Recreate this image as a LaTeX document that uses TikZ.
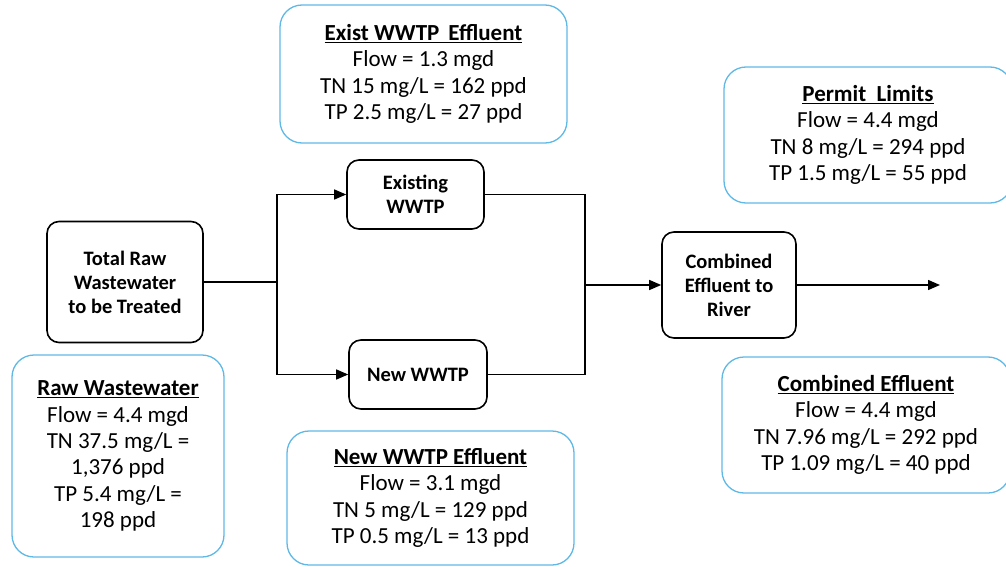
\documentclass[tikz,border=0pt]{standalone}
\usepackage{fontspec}
\setmainfont{Carlito}
\usetikzlibrary{arrows.meta}
\definecolor{infoblue}{RGB}{95,185,230}
\tikzset{
  proc/.style={draw, line width=1.6pt, rounded corners=12pt, align=center,
    font=\fontsize{20.5}{24}\selectfont\bfseries, inner sep=0pt},
  info/.style={draw=infoblue, line width=1.3pt, rounded corners=22pt, align=center,
    font=\fontsize{23}{26.3}\selectfont, inner sep=0pt},
  flow/.style={line width=1.4pt},
  flowarr/.style={flow, -{Triangle[length=12pt, width=10pt]}}
}
\begin{document}
\begin{tikzpicture}[x=1pt, y=-1pt]
  \useasboundingbox (0,0) rectangle (1006,567);
  % process boxes
  \node[proc, minimum width=156pt, minimum height=121pt] (raw) at (125,282) {Total Raw\\Wastewater\\to be Treated};
  \node[proc, minimum width=137pt, minimum height=69pt] (exist) at (415.5,194.5) {Existing\\WWTP};
  \node[proc, minimum width=138pt, minimum height=69pt] (new) at (418,374.5) {New WWTP};
  \node[proc, minimum width=134pt, minimum height=106pt] (comb) at (729,285) {Combined\\Effluent to\\River};
  % info boxes
  \node[info, minimum width=212pt, minimum height=202pt] (rawinfo) at (118,456) {\underline{\textbf{Raw Wastewater}}\\Flow = 4.4 mgd\\TN 37.5 mg/L =\\1,376 ppd\\TP 5.4 mg/L =\\198 ppd};
  \node[info, minimum width=287pt, minimum height=138pt] (existinfo) at (423.5,74) {\underline{\textbf{Exist WWTP\ \,Effluent}}\\Flow = 1.3 mgd\\TN 15 mg/L = 162 ppd\\TP 2.5 mg/L = 27 ppd};
  \node[info, minimum width=287pt, minimum height=134pt] (newinfo) at (430.5,498) {\underline{\textbf{New WWTP Effluent}}\\Flow = 3.1 mgd\\TN 5 mg/L = 129 ppd\\TP 0.5 mg/L = 13 ppd};
  \node[info, minimum width=288pt, minimum height=136pt] (permit) at (868,135) {\underline{\textbf{Permit\ \ Limits}}\\Flow = 4.4 mgd\\TN 8 mg/L = 294 ppd\\TP 1.5 mg/L = 55 ppd};
  \node[info, minimum width=288pt, minimum height=136pt] (combinfo) at (866,425) {\underline{\textbf{Combined Effluent}}\\Flow = 4.4 mgd\\TN 7.96 mg/L = 292 ppd\\TP 1.09 mg/L = 40 ppd};
  % junctions
  \coordinate (split) at (277,282);
  \coordinate (merge) at (585,285);
  \coordinate (river) at (940,285);
  % connectors
  \draw[flow] (raw.east) -- (split);
  \draw[flowarr] (split) |- (exist.west);
  \draw[flowarr] (split) |- (new.west);
  \draw[flow] (exist.east) -| (merge);
  \draw[flow] (new.east) -| (merge);
  \draw[flowarr] (merge) -- (comb.west);
  \draw[flowarr] (comb.east) -- (river);
\end{tikzpicture}
\end{document}
